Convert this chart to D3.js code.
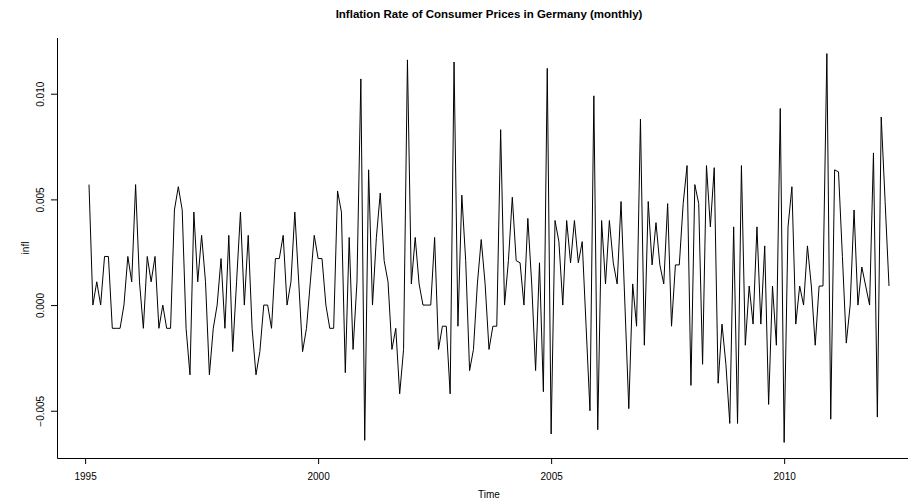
<!DOCTYPE html>
<html>
<head>
<meta charset="utf-8">
<script src="https://d3js.org/d3.v7.min.js"></script>
<style>
  body { margin: 0; background: #fff; }
  svg { display: block; font-family: "Liberation Sans", Arial, Helvetica, sans-serif; }
</style>
</head>
<body>
<div id="chart"></div>
<script>
// monthly series, starts February 1995
var startYear = 1995;
var startMonth = 2;

// inflation rate, one value per month
var infl = [
  0.0057, 0.0000, 0.0011, 0.0000, 0.0023, 0.0023, -0.0011, -0.0011, -0.0011, 0.0000, 0.0023,
  0.0011, 0.0057, 0.0011, -0.0011, 0.0023, 0.0011, 0.0023, -0.0011, 0.0000, -0.0011, -0.0011, 0.0045,
  0.0056, 0.0045, -0.0011, -0.0033, 0.0044, 0.0011, 0.0033, 0.0011, -0.0033, -0.0011, 0.0000, 0.0022,
  -0.0011, 0.0033, -0.0022, 0.0011, 0.0044, 0.0000, 0.0033, -0.0011, -0.0033, -0.0022, 0.0000, 0.0000,
  -0.0011, 0.0022, 0.0022, 0.0033, 0.0000, 0.0011, 0.0044, 0.0011, -0.0022, -0.0011, 0.0011, 0.0033,
  0.0022, 0.0022, 0.0000, -0.0011, -0.0011, 0.0054, 0.0044, -0.0032, 0.0032, -0.0021, 0.0011, 0.0107,
  -0.0064, 0.0064, 0.0000, 0.0032, 0.0053, 0.0021, 0.0011, -0.0021, -0.0011, -0.0042, -0.0021, 0.0116,
  0.0010, 0.0032, 0.0010, 0.0000, 0.0000, 0.0000, 0.0032, -0.0021, -0.0010, -0.0010, -0.0042, 0.0115,
  -0.0010, 0.0052, 0.0021, -0.0031, -0.0021, 0.0010, 0.0031, 0.0010, -0.0021, -0.0010, -0.0010, 0.0083,
  0.0000, 0.0021, 0.0051, 0.0021, 0.0020, 0.0000, 0.0041, 0.0010, -0.0031, 0.0020, -0.0041, 0.0112,
  -0.0061, 0.0040, 0.0030, 0.0000, 0.0040, 0.0020, 0.0040, 0.0020, 0.0030, -0.0010, -0.0050, 0.0099,
  -0.0059, 0.0040, 0.0010, 0.0040, 0.0020, 0.0010, 0.0049, 0.0000, -0.0049, 0.0010, -0.0010, 0.0088,
  -0.0019, 0.0049, 0.0019, 0.0039, 0.0019, 0.0010, 0.0048, -0.0010, 0.0019, 0.0019, 0.0048, 0.0066,
  -0.0038, 0.0057, 0.0048, -0.0028, 0.0066, 0.0037, 0.0065, -0.0037, -0.0009, -0.0028, -0.0056, 0.0037,
  -0.0056, 0.0066, -0.0019, 0.0009, -0.0009, 0.0037, -0.0009, 0.0028, -0.0047, 0.0009, -0.0019, 0.0093,
  -0.0065, 0.0037, 0.0056, -0.0009, 0.0009, 0.0000, 0.0028, 0.0009, -0.0019, 0.0009, 0.0009, 0.0119,
  -0.0054, 0.0064, 0.0063, 0.0023, -0.0018, 0.0000, 0.0045, 0.0000, 0.0018, 0.0009, 0.0000, 0.0072,
  -0.0053, 0.0089, 0.0049, 0.0009
];

var xTickYears = [1995, 2000, 2005, 2010];
var yTickValues = [-0.005, 0, 0.005, 0.010];
var yTickLabels = ["\u22120.005", "0.000", "0.005", "0.010"];

var title = "Inflation Rate of Consumer Prices in Germany (monthly)";

// svg size and plot region
var svgWidth = 908;
var svgHeight = 501;
var plot = { left: 57, right: 921, top: 38, bottom: 458 };

var svg = d3.select("#chart")
  .append("svg")
  .attr("width", svgWidth)
  .attr("height", svgHeight);

// time value of each point
var series = infl.map(function(v, i) {
  return { t: startYear + (startMonth - 1 + i) / 12, v: v };
});

// R style 4% padding on both axes
function padded(ext) {
  var pad = (ext[1] - ext[0]) * 0.04;
  return [ext[0] - pad, ext[1] + pad];
}

var xScale = d3.scaleLinear()
  .domain(padded(d3.extent(series, d => d.t)))
  .range([plot.left, plot.right]);

var yScale = d3.scaleLinear()
  .domain(padded(d3.extent(series, d => d.v)))
  .range([plot.bottom, plot.top]);

// L shaped box
svg.append("path")
  .attr("d", `M${plot.left + 0.5},${plot.top}V${plot.bottom + 0.5}H${plot.right}`)
  .attr("fill", "none")
  .attr("stroke", "#000")
  .attr("stroke-width", 1);

// x axis
var bottomAxis = d3.axisBottom(xScale)
  .tickValues(xTickYears)
  .tickFormat(d3.format("d"))
  .tickSize(6);

var xAxis = svg.append("g")
  .attr("transform", `translate(0, ${plot.bottom})`)
  .call(bottomAxis);

xAxis.select(".domain").remove();
xAxis.append("line")
  .attr("x1", xScale(xTickYears[0]) + 0.5)
  .attr("x2", xScale(xTickYears[xTickYears.length - 1]) + 0.5)
  .attr("y1", 0.5)
  .attr("y2", 0.5)
  .attr("stroke", "#000");
xAxis.selectAll("text")
  .attr("y", 21.5)
  .attr("dy", 0)
  .attr("font-size", 10)
  .attr("fill", "#000")
  .attr("font-family", null);

// y axis
var leftAxis = d3.axisLeft(yScale)
  .tickValues(yTickValues)
  .tickFormat((d, i) => yTickLabels[i])
  .tickSize(6);

var yAxis = svg.append("g")
  .attr("transform", `translate(${plot.left}, 0)`)
  .call(leftAxis);

yAxis.select(".domain").remove();
yAxis.append("line")
  .attr("x1", 0.5)
  .attr("x2", 0.5)
  .attr("y1", yScale(yTickValues[0]) + 0.5)
  .attr("y2", yScale(yTickValues[yTickValues.length - 1]) + 0.5)
  .attr("stroke", "#000");
yAxis.selectAll("text")
  .attr("x", 0)
  .attr("y", 0)
  .attr("dy", 0)
  .attr("transform", "translate(-13.5, 0) rotate(-90)")
  .attr("text-anchor", "middle")
  .attr("font-size", 10)
  .attr("fill", "#000")
  .attr("font-family", null);

// the series
var line = d3.line()
  .x(d => xScale(d.t))
  .y(d => yScale(d.v));

svg.append("path")
  .datum(series)
  .attr("d", line)
  .attr("fill", "none")
  .attr("stroke", "#000")
  .attr("stroke-width", 1)
  .attr("stroke-linejoin", "miter");

// labels
var midX = (plot.left + plot.right) / 2;

svg.append("text")
  .attr("x", midX)
  .attr("y", 18)
  .attr("text-anchor", "middle")
  .attr("font-size", 11.5)
  .attr("font-weight", "bold")
  .text(title);

svg.append("text")
  .attr("x", midX)
  .attr("y", 498)
  .attr("text-anchor", "middle")
  .attr("font-size", 10)
  .text("Time");

svg.append("text")
  .attr("transform", `translate(29.3, ${(plot.top + plot.bottom) / 2}) rotate(-90)`)
  .attr("text-anchor", "middle")
  .attr("font-size", 10)
  .text("infl");
</script>
</body>
</html>
